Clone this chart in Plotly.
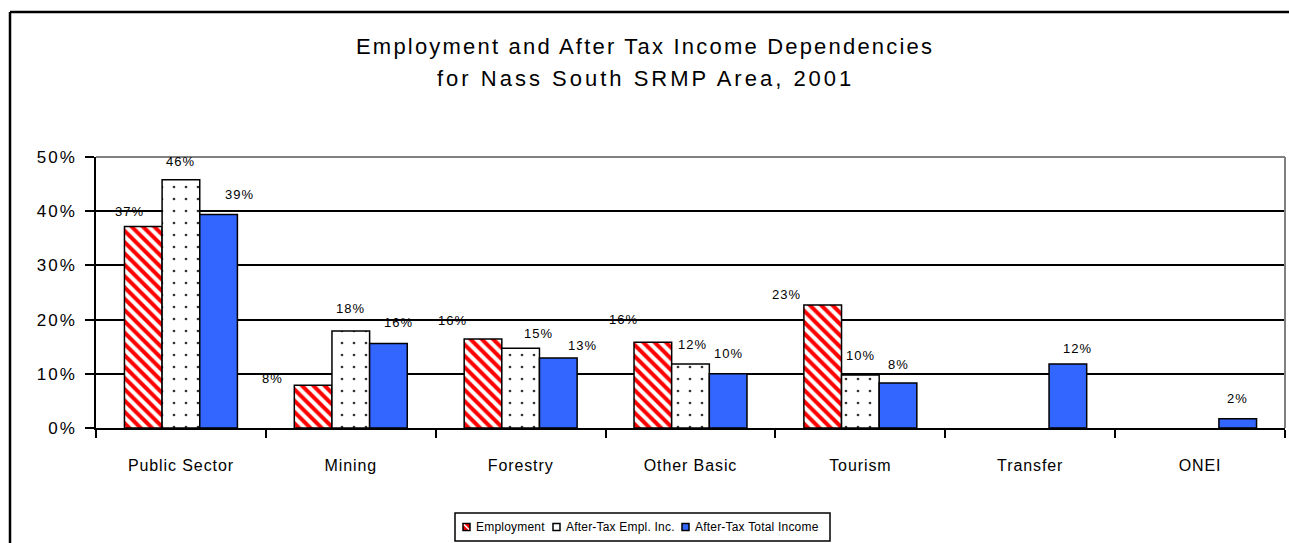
import plotly.graph_objects as go

# ---- data ----
categories = ["Public Sector", "Mining", "Forestry", "Other Basic", "Tourism", "Transfer", "ONEI"]
employment = [0.372, 0.079, 0.164, 0.158, 0.227, None, None]
after_tax_empl_inc = [0.458, 0.179, 0.147, 0.118, 0.098, None, None]
after_tax_total_income = [0.394, 0.156, 0.129, 0.100, 0.083, 0.118, 0.017]
series_names = ["Employment", "After-Tax Empl. Inc.", "After-Tax Total Income"]
y_tick_values = [0, 0.1, 0.2, 0.3, 0.4, 0.5]
y_tick_labels = ["0%", "10%", "20%", "30%", "40%", "50%"]
title_lines = ["Employment and After Tax Income Dependencies",
               "for Nass South SRMP Area, 2001"]

# ---- label nudges (pixels: dx, dy upward from bar top) ----
label_nudge = [
    [(-14, 15), (-41, 7), (-30, 19), (-29, 23), (-36, 10), None, None],
    [(0, 18), (0, 22), (18, 15), (2, 20), (0, 19), None, None],
    [(21, 20), (10, 21), (24, 13), (0, 20), (0, 19), (10, 16), (0, 20)],
]

# ---- geometry ----
W, H = 1289, 543
ML, MR, MT, MB = 96, 4, 157, 115
BARGAP = 0.335
FONT = "Liberation Sans, Arial, sans-serif"
RED, BLUE = "#ff0000", "#3366ff"


def paper_x(px):
    return (px - ML) / (W - ML - MR)


def paper_y(py):
    return (H - MB - py) / (H - MT - MB)


def spaced(text, px):
    return f'<span style="letter-spacing:{px}px">{text}</span>'


series_values = [employment, after_tax_empl_inc, after_tax_total_income]
series_markers = [
    dict(color="white", line=dict(color="black", width=1.5),
         pattern=dict(shape="\\", fgcolor=RED, bgcolor="white",
                      size=8, solidity=0.5, fillmode="replace")),
    dict(color="white", line=dict(color="black", width=1.5),
         pattern=dict(shape=".", fgcolor="#333333", bgcolor="white",
                      size=12, solidity=0.04, fillmode="replace")),
    dict(color=BLUE, line=dict(color="black", width=1.5)),
]

fig = go.Figure()
for name, vals, mk in zip(series_names, series_values, series_markers):
    fig.add_trace(go.Bar(x=categories, y=vals, name=name, marker=mk,
                         showlegend=False))

# data labels placed above each bar
slot = (1 - BARGAP) / 3
annotations = []
for j, vals in enumerate(series_values):
    for i, v in enumerate(vals):
        if v is None:
            continue
        dx, dy = label_nudge[j][i]
        annotations.append(dict(
            x=i + (j - 1) * slot, y=v, xref="x", yref="y",
            text=spaced(f"{v:.0%}", 1), showarrow=False,
            xanchor="center", yanchor="middle",
            xshift=dx, yshift=dy,
            font=dict(family=FONT, size=13, color="black"),
        ))

# chart title (two lines)
title_spacing = [2.2, 3.0]
for k, line in enumerate(title_lines):
    annotations.append(dict(
        x=paper_x(645), y=paper_y(47 + 32 * k), xref="paper", yref="paper",
        text=spaced(line, title_spacing[k]), showarrow=False,
        xanchor="center", yanchor="middle",
        font=dict(family=FONT, size=22, color="black"),
    ))

shapes = [
    # chart area frame (top and left edges)
    dict(type="line", xref="paper", yref="paper",
         x0=paper_x(10), x1=paper_x(W + 5), y0=paper_y(12), y1=paper_y(12),
         line=dict(color="black", width=2.5)),
    dict(type="line", xref="paper", yref="paper",
         x0=paper_x(10), x1=paper_x(10), y0=paper_y(12), y1=paper_y(H + 5),
         line=dict(color="black", width=2.5)),
    # plot area border: top and right in grey
    dict(type="line", xref="paper", yref="paper", x0=0, x1=1, y0=1, y1=1,
         line=dict(color="#808080", width=2), layer="above"),
    dict(type="line", xref="paper", yref="paper", x0=1, x1=1, y0=0, y1=1,
         line=dict(color="#808080", width=2), layer="above"),
    # legend box
    dict(type="rect", xref="paper", yref="paper",
         x0=paper_x(455), x1=paper_x(830), y0=paper_y(513), y1=paper_y(541),
         line=dict(color="black", width=1.5), fillcolor="white"),
]

# legend entries: small swatch + label
legend_swatch_x = [463, 553, 682]
legend_fill = [RED, "white", BLUE]
LEG_Y, SW = 527, 7
for name, sx, fill in zip(series_names, legend_swatch_x, legend_fill):
    shapes.append(dict(
        type="rect", xref="paper", yref="paper",
        x0=paper_x(sx), x1=paper_x(sx + SW),
        y0=paper_y(LEG_Y - SW / 2), y1=paper_y(LEG_Y + SW / 2),
        line=dict(color="black", width=1.5), fillcolor=fill))
    annotations.append(dict(
        x=paper_x(sx + SW + 4), y=paper_y(LEG_Y), xref="paper", yref="paper",
        text=spaced(name, 0.2), showarrow=False,
        xanchor="left", yanchor="middle",
        font=dict(family=FONT, size=12, color="black")))
# diagonal stripe in the first swatch
shapes.append(dict(
    type="line", xref="paper", yref="paper",
    x0=paper_x(legend_swatch_x[0] + 1), x1=paper_x(legend_swatch_x[0] + SW - 1),
    y0=paper_y(LEG_Y - SW / 2 + 1), y1=paper_y(LEG_Y + SW / 2 - 1),
    line=dict(color="white", width=1.5)))

fig.update_layout(
    width=W, height=H,
    margin=dict(l=ML, r=MR, t=MT, b=MB, pad=0),
    paper_bgcolor="white", plot_bgcolor="white",
    barmode="group", bargap=BARGAP, bargroupgap=0,
    font=dict(family=FONT, color="black"),
    showlegend=False,
    annotations=annotations,
    shapes=shapes,
)

fig.update_xaxes(
    type="category", tickson="boundaries", ticks="outside", ticklen=8,
    tickcolor="black", tickwidth=1.5, showline=True, linecolor="black",
    linewidth=1.5, showgrid=False, ticklabelstandoff=22,
    tickmode="array", tickvals=categories,
    ticktext=[spaced(c, 0.9) for c in categories],
    tickfont=dict(family=FONT, size=16, color="black"),
)
fig.update_yaxes(
    range=[0, 0.5], tickvals=y_tick_values,
    ticktext=[spaced(t, 2) for t in y_tick_labels],
    ticks="outside", ticklen=9, tickcolor="black", tickwidth=1.5,
    showline=True, linecolor="black", linewidth=1.5,
    showgrid=True, gridcolor="black", gridwidth=1.5, zeroline=False,
    ticklabelstandoff=5,
    tickfont=dict(family=FONT, size=17, color="black"),
)

fig.write_html("out.html")
